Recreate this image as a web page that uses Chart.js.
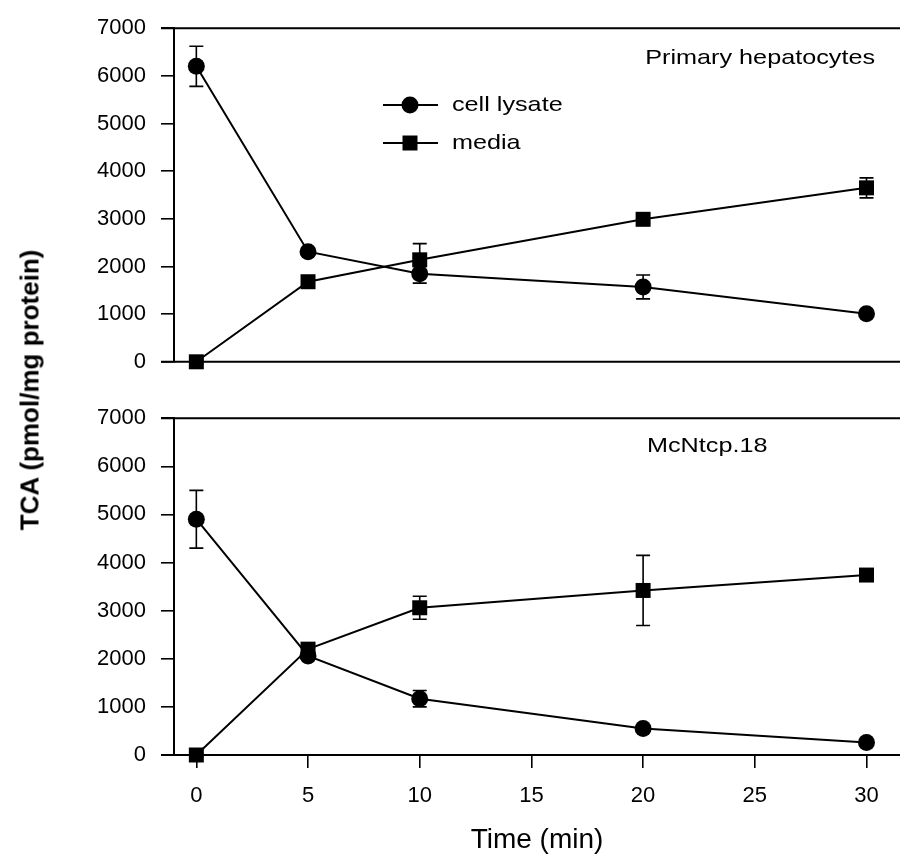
<!DOCTYPE html>
<html>
<head>
<meta charset="utf-8">
<title>TCA uptake</title>
<script src="https://cdn.jsdelivr.net/npm/chart.js@4.4.1/dist/chart.umd.min.js"></script>
<style>
  body { margin: 0; background: #fff; }
  #wrap { position: relative; width: 900px; height: 857px; overflow: hidden; background: #fff; }
  #wrap canvas { position: absolute; left: 0; }
  #topChart { top: 0; }
  #bottomChart { top: 390px; }
  #yTitle {
    position: absolute; left: 30px; top: 390px;
    transform: translate(-50%, -50%) rotate(-90deg);
    font: bold 26px "Liberation Sans", Arial, sans-serif;
    color: #000; white-space: nowrap;
  }
</style>
</head>
<body>
<div id="wrap">
  <canvas id="topChart" width="900" height="390"></canvas>
  <canvas id="bottomChart" width="900" height="467"></canvas>
  <div id="yTitle">TCA (pmol/mg protein)</div>
</div>
<script>
const FONT = '"Liberation Sans", Arial, sans-serif';

const times = [0, 5, 10, 20, 30];
const xTicks = [0, 5, 10, 15, 20, 25, 30];
const yTicks = [0, 1000, 2000, 3000, 4000, 5000, 6000, 7000];

// primary hepatocytes
const lysateTop = [6200, 2310, 1850, 1570, 1010];
const lysateTopErr = [420, 60, 200, 250, 50];
const mediaTop = [0, 1680, 2140, 2990, 3650];
const mediaTopErr = [40, 100, 340, 80, 210];

// McNtcp.18 cells
const lysateBottom = [4900, 2060, 1170, 550, 260];
const lysateBottomErr = [600, 60, 170, 50, 40];
const mediaBottom = [0, 2200, 3060, 3420, 3740];
const mediaBottomErr = [40, 80, 240, 730, 100];

const TICK_LEN = 13;
const TEXT_STRETCH = 1.2;

// error bars behind the markers
const errorBars = {
  id: 'errorBars',
  beforeDatasetsDraw(chart) {
    const { ctx, scales: { y } } = chart;
    ctx.save();
    ctx.strokeStyle = '#000';
    ctx.lineWidth = 1.6;
    chart.data.datasets.forEach((ds, di) => {
      if (!ds.errors) return;
      chart.getDatasetMeta(di).data.forEach((pt, i) => {
        const v = ds.data[i].y, e = ds.errors[i];
        const y1 = y.getPixelForValue(v + e), y2 = y.getPixelForValue(v - e);
        ctx.beginPath();
        ctx.moveTo(pt.x, y1); ctx.lineTo(pt.x, y2);
        ctx.moveTo(pt.x - 7, y1); ctx.lineTo(pt.x + 7, y1);
        ctx.moveTo(pt.x - 7, y2); ctx.lineTo(pt.x + 7, y2);
        ctx.stroke();
      });
    });
    ctx.restore();
  }
};

// horizontal frame lines at the top and bottom of each panel
const panelFrame = {
  id: 'panelFrame',
  beforeDatasetsDraw(chart) {
    const { ctx, chartArea, scales: { y } } = chart;
    ctx.save();
    ctx.strokeStyle = '#000';
    ctx.lineWidth = 2;
    ctx.beginPath();
    [y.max, y.min].forEach(v => {
      const py = y.getPixelForValue(v);
      ctx.moveTo(chartArea.left - TICK_LEN, py);
      ctx.lineTo(chartArea.right, py);
    });
    ctx.stroke();
    ctx.restore();
  }
};

function drawMarker(ctx, style, x, y) {
  ctx.beginPath();
  if (style === 'rect') {
    ctx.rect(x - 7.5, y - 7.5, 15, 15);
  } else {
    ctx.arc(x, y, 8.5, 0, Math.PI * 2);
  }
  ctx.fill();
}

// slightly widened lettering, like the old typeset figure
function wideText(ctx, text, x, y, align) {
  ctx.save();
  ctx.translate(x, y);
  ctx.scale(TEXT_STRETCH, 1);
  ctx.textAlign = align;
  ctx.fillText(text, 0, 0);
  ctx.restore();
}

const panelText = {
  id: 'panelText',
  afterDraw(chart, args, opts) {
    const { ctx } = chart;
    ctx.save();
    ctx.fillStyle = '#000';
    ctx.textBaseline = 'middle';
    if (opts.label) {
      ctx.font = '21px ' + FONT;
      wideText(ctx, opts.label.text, opts.label.x, opts.label.y, opts.label.align);
    }
    if (opts.legend) {
      const { x, y, gap } = opts.legend;
      ctx.font = '21px ' + FONT;
      chart.data.datasets.forEach((ds, i) => {
        const ly = y + i * gap;
        ctx.strokeStyle = '#000';
        ctx.lineWidth = 2;
        ctx.beginPath();
        ctx.moveTo(x, ly); ctx.lineTo(x + 55, ly);
        ctx.stroke();
        drawMarker(ctx, ds.pointStyle, x + 27, ly);
        wideText(ctx, ds.label, x + 69, ly, 'left');
      });
    }
    ctx.restore();
  }
};

function series(label, values, errors, style) {
  return {
    label,
    data: times.map((t, i) => ({ x: t, y: values[i] })),
    errors,
    borderColor: '#000',
    backgroundColor: '#000',
    borderWidth: 2,
    pointStyle: style,
    pointRadius: style === 'rect' ? 10.6 : 8.5,
    pointBorderWidth: 0,
    tension: 0,
    fill: false,
    clip: false
  };
}

function yScale() {
  return {
    min: 0,
    max: 7000,
    afterFit: s => { s.width = 174; },
    afterBuildTicks: s => { s.ticks = yTicks.map(v => ({ value: v })); },
    grid: { drawOnChartArea: false, drawTicks: true, tickLength: TICK_LEN, color: '#000', lineWidth: 1.6 },
    border: { display: true, color: '#000', width: 2 },
    ticks: { color: '#000', padding: 15, font: { family: FONT, size: 22 }, callback: v => String(v) }
  };
}

function makePanel(id, lysate, lysateErr, media, mediaErr, showX, padBottom, notes) {
  return new Chart(document.getElementById(id), {
    type: 'line',
    data: {
      datasets: [
        series('cell lysate', lysate, lysateErr, 'circle'),
        series('media', media, mediaErr, 'rect')
      ]
    },
    options: {
      responsive: false,
      animation: false,
      layout: { autoPadding: false, padding: { top: 22, bottom: padBottom, left: 0, right: 0 } },
      plugins: {
        legend: { display: false },
        tooltip: { enabled: false },
        panelText: notes
      },
      scales: {
        x: {
          type: 'linear',
          display: showX,
          min: -1,
          max: 31.5,
          afterBuildTicks: s => { s.ticks = xTicks.map(v => ({ value: v })); },
          afterFit: s => { if (showX) s.height = 102; },
          grid: { drawOnChartArea: false, drawTicks: true, tickLength: TICK_LEN, color: '#000', lineWidth: 1.6 },
          border: { display: true, color: '#000', width: 2 },
          ticks: { color: '#000', padding: 15, maxRotation: 0, font: { family: FONT, size: 22 }, callback: v => String(v) },
          title: {
            display: true,
            text: 'Time (min)',
            color: '#000',
            padding: { top: 0, bottom: 0 },
            font: { family: FONT, size: 28 }
          }
        },
        y: yScale()
      }
    },
    plugins: [panelFrame, errorBars, panelText]
  });
}

makePanel('topChart', lysateTop, lysateTopErr, mediaTop, mediaTopErr, false, 21, {
  label: { text: 'Primary hepatocytes', x: 875, y: 58, align: 'right' },
  legend: { x: 383, y: 105, gap: 38 }
});

makePanel('bottomChart', lysateBottom, lysateBottomErr, mediaBottom, mediaBottomErr, true, 0, {
  label: { text: 'McNtcp.18', x: 647, y: 56, align: 'left' }
});
</script>
</body>
</html>
